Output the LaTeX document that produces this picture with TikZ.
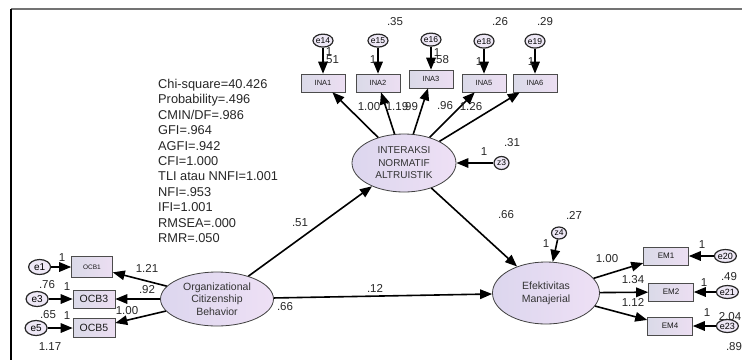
\documentclass[tikz,border=0pt]{standalone}
\usepackage{fontspec}
\setmainfont{Liberation Sans}
\usetikzlibrary{
    shapes.geometric, arrows.meta, positioning
}
\definecolor{latL}{RGB}{220,214,238}
\definecolor{latR}{RGB}{238,224,245}
\definecolor{obsL}{RGB}{218,218,232}
\definecolor{obsR}{RGB}{236,222,242}
\definecolor{errF}{RGB}{238,232,246}
\tikzset{
  lat/.style={ellipse, draw=black!75, line width=0.8pt,
              left color=latL, right color=latR, inner sep=0pt,
              align=center, text=black!80,
              font=\fontsize{10.5}{12.5}\selectfont},
  obs/.style={rectangle, draw=black!70, line width=0.6pt,
              left color=obsL, right color=obsR, inner sep=0pt,
              minimum width=44pt, minimum height=18pt, text=black!90,
              font=\fontsize{7.5}{9}\selectfont},
  err/.style={ellipse, draw=black!85, line width=1.2pt, fill=errF,
              inner sep=0pt, minimum width=17pt, minimum height=13pt,
              font=\fontsize{8.5}{9}\selectfont},
  errw/.style={err, minimum width=22pt, minimum height=15pt,
               font=\fontsize{10}{11}\selectfont},
  arr/.style={-{Triangle[length=12pt, width=9.5pt]}, line width=1.6pt},
  num/.style={inner sep=0pt, text=black!85,
              font=\fontsize{11.5}{12}\selectfont},
  fitstat/.style={inner sep=0pt, align=left, text=black!85,
                  font=\fontsize{12.8}{15.4}\selectfont},
}

\begin{document}
\begin{tikzpicture}[x=1pt, y=-1pt, node distance=24pt]
  \useasboundingbox (0,0) rectangle (742,360);
  \draw[black!55, line width=2pt] (11,9) -- (742,9);
  \draw[line width=2.4pt] (11,9) -- (11,360);

  \node[lat, minimum width=104pt, minimum height=58pt, font=\fontsize{10}{12.5}\selectfont] (ina) at (404,163)
    {INTERAKSI\\NORMATIF\\ALTRUISTIK};
  \node[lat, minimum width=113pt, minimum height=54pt] (ocb) at (217,299)
    {Organizational\\Citizenship\\Behavior};
  \node[lat, minimum width=107pt, minimum height=62pt, font=\fontsize{10.5}{13}\selectfont] (eff) at (546,293)
    {Efektivitas\\Manajerial};

  \node[obs] (ina1) at (323,83) {INA1};
  \node[obs] (ina2) at (378,83) {INA2};
  \node[obs] (ina3) at (431,79) {INA3};
  \node[obs] (ina5) at (484,83) {INA5};
  \node[obs] (ina6) at (535,83) {INA6};
  \node[err, above=26pt of ina1] (e14) {e14};
  \node[err, above=26pt of ina2] (e15) {e15};
  \node[err, above=23pt of ina3] (e16) {e16};
  \node[err, above=25pt of ina5, minimum height=14pt] (e18) {e18};
  \node[err, above=25pt of ina6, minimum height=14pt] (e19) {e19};

  \node[obs, minimum width=41pt, minimum height=21pt, font=\fontsize{6.5}{8}\selectfont] (ocb1) at (92,267) {OCB1};
  \node[obs, minimum width=42pt, font=\fontsize{10.5}{12}\selectfont] (ocb3) at (94,299) {OCB3};
  \node[obs, minimum width=42pt, minimum height=19pt, font=\fontsize{10.5}{12}\selectfont] (ocb5) at (94,328) {OCB5};
  \node[errw, left=20pt of ocb1] (e1) {e1};
  \node[errw, left=24pt of ocb3] (e3) {e3};
  \node[errw, left=25pt of ocb5] (e5) {e5};

  \node[obs, minimum width=45pt, font=\fontsize{8}{9}\selectfont] (em1) at (666,256) {EM1};
  \node[obs, minimum width=45pt, font=\fontsize{8}{9}\selectfont] (em2) at (671,292) {EM2};
  \node[obs, minimum width=45pt, font=\fontsize{8}{9}\selectfont] (em4) at (670,326) {EM4};
  \node[err, minimum width=22pt, font=\fontsize{9}{10}\selectfont, right=25pt of em1] (e20) {e20};
  \node[err, minimum width=22pt, font=\fontsize{9}{10}\selectfont, right=22pt of em2] (e21) {e21};
  \node[err, minimum width=22pt, font=\fontsize{9}{10}\selectfont, right=23pt of em4] (e23) {e23};

  \node[err, minimum width=15pt, right=37pt of ina] (z3) {z3};
  \node[err, minimum width=15pt, minimum height=12pt] (z4) at (559,233) {z4};

  \node[fitstat, anchor=north west] (fit) at (158,79)
    {Chi-square=40.426\\Probability=.496\\CMIN/DF=.986\\GFI=.964\\AGFI=.942\\CFI=1.000\\
     TLI atau NNFI=1.001\\NFI=.953\\IFI=1.001\\RMSEA=.000\\RMR=.050};

  \draw[arr] (ina) -- (ina1);
  \draw[arr] (ina) -- (ina2);
  \draw[arr] (ina) -- (ina3);
  \draw[arr] (ina) -- (ina5);
  \draw[arr] (ina) -- (ina6);
  \draw[arr] (e14) -- (ina1);
  \draw[arr] (e15) -- (ina2);
  \draw[arr] (e16) -- (ina3);
  \draw[arr] (e18) -- (ina5);
  \draw[arr] (e19) -- (ina6);
  \draw[arr] (ocb) -- (ocb1);
  \draw[arr] (ocb) -- (ocb3);
  \draw[arr] (ocb) -- (ocb5);
  \draw[arr] (e1) -- (ocb1);
  \draw[arr] (e3) -- (ocb3);
  \draw[arr] (e5) -- (ocb5);
  \draw[arr] (eff) -- (em1);
  \draw[arr] (eff) -- (em2);
  \draw[arr] (eff) -- (em4);
  \draw[arr] (e20) -- (em1);
  \draw[arr] (e21) -- (em2);
  \draw[arr] (e23) -- (em4);
  \draw[arr] (z3) -- (ina);
  \draw[arr] (z4) -- (eff);
  \draw[arr] (ocb) -- (ina);
  \draw[arr] (ocb) -- (eff);
  \draw[arr] (ina) -- (eff);

  \node[num] (v15) at (395,22) {.35};
  \node[num] (v18) at (500,22) {.26};
  \node[num] (v19) at (545,22) {.29};
  \node[num] (w14) at (329,52) {1};
  \node[num] (v14) at (331,60) {.51};
  \node[num] (w15) at (373,60) {1};
  \node[num] (w16) at (437,53) {1};
  \node[num] (v16) at (441,60) {.58};
  \node[num] (w18) at (479,62) {1};
  \node[num] (w19) at (531,62) {1};
  \node[num] (k1) at (369,107) {1.00};
  \node[num] (k2) at (397,107) {1.19};
  \node[num] (k3) at (410,107) {.99};
  \node[num] (k5) at (445,106) {.96};
  \node[num] (k6) at (471,107) {1.26};
  \node[num] (wz3) at (484,152) {1};
  \node[num] (vz3) at (512,143) {.31};
  \node[num] (b1) at (506,215) {.66};
  \node[num] (b2) at (300,223) {.51};
  \node[num] (b3) at (375,288) {.12};
  \node[num] (vocb) at (285,307) {.66};
  \node[num] (vz4) at (574,215) {.27};
  \node[num] (wz4) at (546,244) {1};
  \node[num] (w1) at (62,258) {1};
  \node[num] (k7) at (147,268) {1.21};
  \node[num] (v3) at (47,285) {.76};
  \node[num] (w3) at (67,287) {1};
  \node[num] (k8) at (147,290) {.92};
  \node[num] (k9) at (127,311) {1.00};
  \node[num] (v5) at (48,315) {.65};
  \node[num] (w5) at (67,316) {1};
  \node[num] (v1) at (50,347) {1.17};
  \node[num] (k10) at (607,259) {1.00};
  \node[num] (k11) at (633,280) {1.34};
  \node[num] (k12) at (633,302) {1.12};
  \node[num] (w20) at (702,245) {1};
  \node[num] (v20) at (729,277) {.49};
  \node[num] (w21) at (704,283) {1};
  \node[num] (w23) at (707,313) {1};
  \node[num] (v21) at (730,317) {2.04};
  \node[num] (v23) at (734,347) {.89};
\end{tikzpicture}
\end{document}
